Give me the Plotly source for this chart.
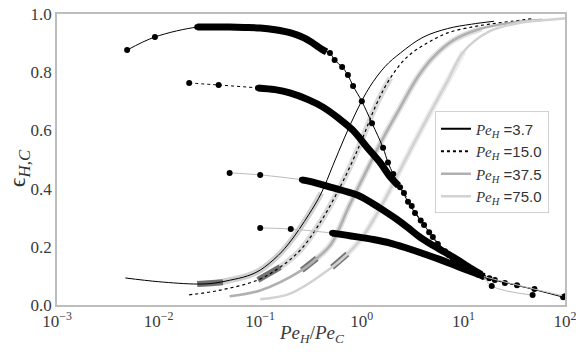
import plotly.graph_objects as go

# ---------------- data ----------------
LABELS = ["3.7", "15.0", "37.5", "75.0"]

# eps_H : sparse low-x points, dense part, sparse high-x points
EH1_LO_X = [0.0049, 0.0092, 0.024]
EH1_LO_Y = [0.876, 0.921, 0.955]
EH1_D_X = [0.024, 0.035, 0.05, 0.07, 0.1, 0.14, 0.2, 0.27, 0.33, 0.4, 0.45]
EH1_D_Y = [0.955, 0.955, 0.955, 0.954, 0.952, 0.946, 0.935, 0.918, 0.90, 0.88, 0.87]
EH1_HI_X = [0.486, 0.54, 0.64, 0.73, 0.82, 1.0, 1.26, 1.62, 1.81, 2.04, 2.38, 2.85,
            3.34, 4.1, 5.0, 6.6, 7.9, 10, 12.4, 15.6, 20.4, 33.7, 96]
EH1_HI_Y = [0.866, 0.842, 0.818, 0.79, 0.753, 0.70, 0.625, 0.54, 0.49, 0.45, 0.405, 0.355,
            0.316, 0.275, 0.234, 0.185, 0.155, 0.131, 0.113, 0.097, 0.086, 0.068, 0.027]

EH2_LO_X = [0.02, 0.039, 0.095]
EH2_LO_Y = [0.763, 0.756, 0.746]
EH2_D_X = [0.095, 0.14, 0.196, 0.3, 0.415, 0.6, 0.82, 1.12, 1.51, 1.91, 2.3]
EH2_D_Y = [0.746, 0.74, 0.729, 0.705, 0.68, 0.64, 0.60, 0.543, 0.49, 0.44, 0.41]
EH2_HI_X = [2.6, 3.1, 3.8, 4.6, 5.6, 7.2, 9, 11.5, 14, 18, 25.6, 50]
EH2_HI_Y = [0.385, 0.34, 0.29, 0.25, 0.21, 0.172, 0.142, 0.12, 0.104, 0.092, 0.076, 0.055]

EH3_LO_X = [0.05, 0.1, 0.257]
EH3_LO_Y = [0.454, 0.447, 0.43]
EH3_D_X = [0.257, 0.35, 0.49, 0.7, 0.9, 1.2, 1.62, 2.2, 2.79, 3.7, 5, 7.9, 12, 15]
EH3_D_Y = [0.43, 0.42, 0.405, 0.39, 0.378, 0.355, 0.326, 0.295, 0.268, 0.234, 0.205, 0.165, 0.125, 0.105]
EH3_HI_X = [19, 48]
EH3_HI_Y = [0.065, 0.034]

EH4_LO_X = [0.1, 0.2, 0.51]
EH4_LO_Y = [0.265, 0.261, 0.247]
EH4_D_X = [0.51, 0.7, 0.9, 1.3, 1.9, 2.8, 4.4, 6, 8, 10, 13, 16]
EH4_D_Y = [0.247, 0.24, 0.234, 0.225, 0.213, 0.195, 0.172, 0.155, 0.138, 0.125, 0.11, 0.098]
EH4_HI_X = [100]
EH4_HI_Y = [0.03]

# eps_C curves
EC1_X = [0.0047, 0.01, 0.024, 0.035, 0.05, 0.075, 0.1, 0.15, 0.2, 0.3, 0.4, 0.52, 0.68,
         0.9, 1.2, 1.7, 2.4, 4.0, 7, 12, 20]
EC1_Y = [0.093, 0.08, 0.072, 0.075, 0.085, 0.10, 0.12, 0.17, 0.22, 0.31, 0.385, 0.48, 0.577,
         0.67, 0.75, 0.82, 0.866, 0.92, 0.95, 0.965, 0.975]
EC2_X = [0.02, 0.039, 0.095, 0.157, 0.25, 0.4, 0.6, 0.8, 1.0, 1.41, 1.91, 2.79, 4.4, 7, 12,
         18, 30, 50]
EC2_Y = [0.035, 0.05, 0.086, 0.13, 0.19, 0.29, 0.40, 0.49, 0.567, 0.694, 0.78, 0.852, 0.90,
         0.935, 0.955, 0.965, 0.975, 0.985]
EC3_X = [0.05, 0.1, 0.257, 0.36, 0.5, 0.75, 1.07, 1.6, 2.4, 3.5, 5, 8, 15, 30, 60]
EC3_Y = [0.03, 0.05, 0.12, 0.16, 0.21, 0.34, 0.45, 0.57, 0.68, 0.78, 0.85, 0.91, 0.95, 0.97, 0.98]
EC4_X = [0.1, 0.2, 0.51, 0.72, 1.0, 1.5, 2.2, 3.2, 4.7, 7, 10, 18, 36, 70, 100]
EC4_Y = [0.02, 0.04, 0.13, 0.175, 0.23, 0.33, 0.44, 0.55, 0.66, 0.77, 0.87, 0.94, 0.97, 0.98, 0.985]

# darkest (most densely sampled) start of each eps_C curve
EC1_K_X = [0.024, 0.043]
EC1_K_Y = [0.072, 0.078]
EC2_K_X = [0.095, 0.157]
EC2_K_Y = [0.086, 0.13]
EC3_K_X = [0.257, 0.36]
EC3_K_Y = [0.12, 0.16]
EC4_K_X = [0.51, 0.72]
EC4_K_Y = [0.13, 0.175]

X_TICKS = [0.001, 0.01, 0.1, 1, 10, 100]
X_TICKTEXT = ["10<sup>\u22123</sup>", "10<sup>\u22122</sup>", "10<sup>\u22121</sup>",
              "10<sup>0</sup>", "10<sup>1</sup>", "10<sup>2</sup>"]
Y_TICKS = [0.0, 0.2, 0.4, 0.6, 0.8, 1.0]

# ---------------- styles ----------------
LINE_COL = ["black", "black", "#b0b0b0", "#d2d2d2"]
DASH = ["solid", "dot", "solid", "solid"]
LINE_W = [1.0, 1.2, 2.6, 2.6]
HALO = ["rgba(120,120,120,0.35)", "rgba(150,150,150,0.35)", "rgba(170,170,170,0.35)", "rgba(200,200,200,0.35)"]
SERIF = "Liberation Serif"

fig = go.Figure()

EH = [(EH1_LO_X, EH1_LO_Y, EH1_D_X, EH1_D_Y, EH1_HI_X, EH1_HI_Y),
      (EH2_LO_X, EH2_LO_Y, EH2_D_X, EH2_D_Y, EH2_HI_X, EH2_HI_Y),
      (EH3_LO_X, EH3_LO_Y, EH3_D_X, EH3_D_Y, EH3_HI_X, EH3_HI_Y),
      (EH4_LO_X, EH4_LO_Y, EH4_D_X, EH4_D_Y, EH4_HI_X, EH4_HI_Y)]
EC = [(EC1_X, EC1_Y, EC1_K_X, EC1_K_Y), (EC2_X, EC2_Y, EC2_K_X, EC2_K_Y),
      (EC3_X, EC3_Y, EC3_K_X, EC3_K_Y), (EC4_X, EC4_Y, EC4_K_X, EC4_K_Y)]

# eps_C curves first (underneath)
for i, (cx, cy, kx, ky) in enumerate(EC):
    dense_end = EH[i][2][-1]
    hx = [x for x in cx if kx[0] <= x <= dense_end]
    hy = [y for x, y in zip(cx, cy) if kx[0] <= x <= dense_end]
    fig.add_trace(go.Scatter(x=hx, y=hy, mode="lines", showlegend=False, hoverinfo="skip",
                             line=dict(color=HALO[i], width=6, shape="spline")))
    fig.add_trace(go.Scatter(x=kx, y=ky, mode="lines", showlegend=False, hoverinfo="skip",
                             line=dict(color="rgba(70,70,70,0.7)", width=6)))
    fig.add_trace(go.Scatter(x=cx, y=cy, mode="lines", showlegend=False,
                             line=dict(color=LINE_COL[i], width=LINE_W[i], dash=DASH[i], shape="spline")))

# eps_H curves
for i, (lx, ly, dx, dy, hx, hy) in enumerate(EH):
    allx = lx + dx[1:] + hx
    ally = ly + dy[1:] + hy
    fig.add_trace(go.Scatter(x=allx, y=ally, mode="lines", showlegend=False,
                             line=dict(color=LINE_COL[i] if i < 2 else "#bbbbbb", width=1.0,
                                       dash=DASH[i], shape="spline")))
    fig.add_trace(go.Scatter(x=dx, y=dy, mode="lines", showlegend=False,
                             line=dict(color="black", width=7, shape="spline")))
    fig.add_trace(go.Scatter(x=lx + hx, y=ly + hy, mode="markers", showlegend=False,
                             marker=dict(color="black", size=6)))

# legend entries
for i, lab in enumerate(LABELS):
    fig.add_trace(go.Scatter(
        x=[None], y=[None], mode="lines",
        name=f"<span style='font-family:{SERIF}'><i>Pe</i><sub><i>H</i></sub></span> ={lab}",
        line=dict(color=LINE_COL[i], width=2.2 if i < 2 else 2.6, dash=DASH[i])))

axis_common = dict(showgrid=False, zeroline=False, showline=True, mirror=True,
                   linecolor="#bdbdbd", linewidth=1.5, ticks="", automargin=False,
                   ticklabeloverflow="allow",
                   tickfont=dict(family=SERIF, size=17, color="#3a3a3a"))

fig.update_layout(
    width=576, height=352,
    margin=dict(l=57, r=11, t=14, b=47, autoexpand=False),
    paper_bgcolor="white", plot_bgcolor="white",
    xaxis=dict(type="log", range=[-3, 2], tickvals=X_TICKS, ticktext=X_TICKTEXT,
               **axis_common),
    yaxis=dict(range=[0, 1.0], tickvals=Y_TICKS, tickformat=".1f",
               **axis_common),
    legend=dict(x=0.744, y=0.665, xanchor="left", yanchor="top",
                bgcolor="white", bordercolor="#d0d0d0", borderwidth=1,
                font=dict(family="Liberation Sans", size=15, color="#333"),
                itemwidth=30, tracegroupgap=0),
    showlegend=True,
    annotations=[
        dict(text="<i>Pe</i><sub><i>H</i></sub>/<i>Pe</i><sub><i>C</i></sub>",
             xref="paper", yref="paper", x=0.5, y=-0.1, xanchor="center", yanchor="middle",
             showarrow=False, font=dict(family=SERIF, size=19, color="#3a3a3a")),
        dict(text="\u03f5<sub><i>H,C</i></sub>",
             xref="paper", yref="paper", x=-0.075, y=0.47, xanchor="center", yanchor="middle",
             textangle=-90, showarrow=False, font=dict(family=SERIF, size=24, color="#333")),
    ],
)

fig.write_html("out.html", config={"displayModeBar": False},
               post_script="document.body.style.margin='0px';document.body.style.padding='0px';")
